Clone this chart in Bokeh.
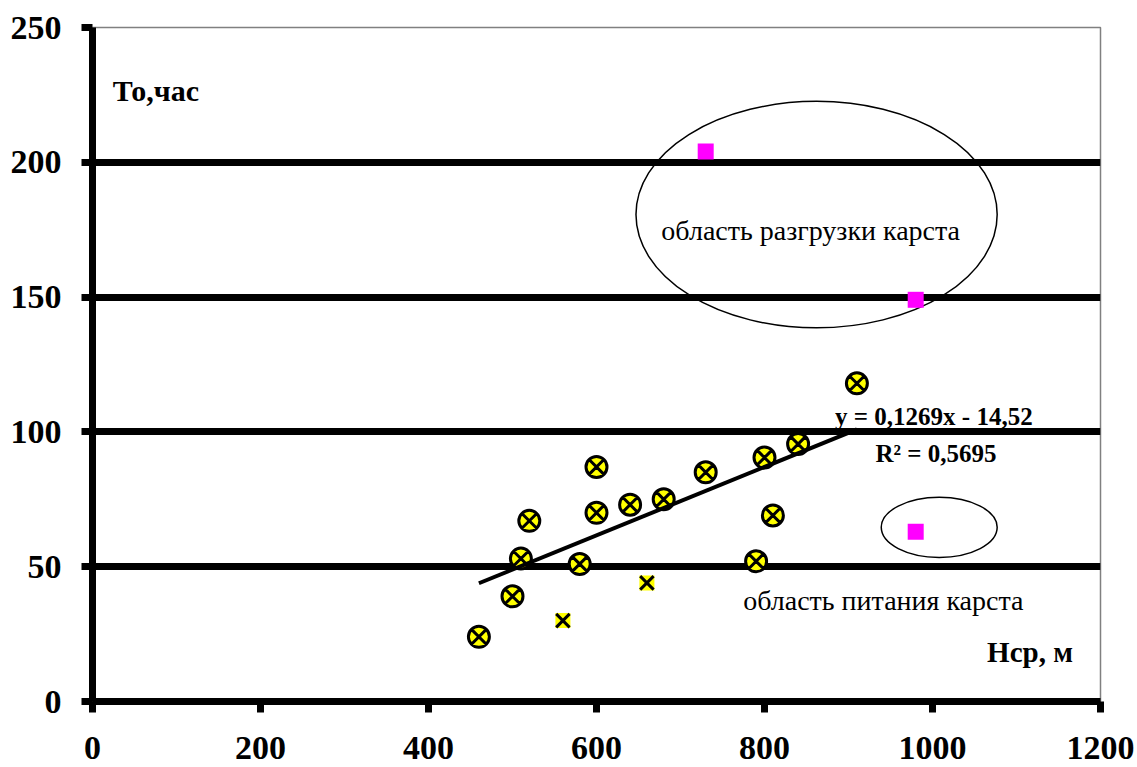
from bokeh.plotting import figure
from bokeh.models import Range1d, FixedTicker, Label
from bokeh.embed import file_html
from bokeh.resources import INLINE

# ---- data ----
H_main = [460, 500, 510, 520, 580, 600, 600, 640, 680, 730, 790, 800, 810, 840, 910]
T_main = [24, 39, 53, 67, 51, 70, 87, 73, 75, 85, 52, 90.5, 69, 95.5, 118]
H_cross = [560, 660]
T_cross = [30, 44]
H_mag = [730, 980, 980]
T_mag = [204, 149, 63]
slope = 0.1269
intercept = -14.52
x_ticks = [0, 200, 400, 600, 800, 1000, 1200]
y_ticks = [0, 50, 100, 150, 200, 250]

# annotation ellipses (data units)
ell_x = [862, 1008]
ell_y = [180.6, 64.6]
ell_w = [430, 138]
ell_h = [84, 22.3]

FONT = "Liberation Serif"

p = figure(width=1137, height=767, output_backend="svg", toolbar_location=None,
           x_range=Range1d(0, 1200), y_range=Range1d(0, 250),
           min_border_left=92, min_border_right=37, min_border_top=27,
           min_border_bottom=66)
p.background_fill_color = "white"
p.border_fill_color = "white"
p.outline_line_color = "#808080"
p.outline_line_width = 1.5

for ax, ticks in ((p.xaxis, x_ticks), (p.yaxis, y_ticks)):
    ax.ticker = FixedTicker(ticks=ticks)
    ax.axis_line_width = 7
    ax.axis_line_color = "black"
    ax.major_tick_line_width = 7
    ax.major_tick_line_color = "black"
    ax.major_tick_out = 11
    ax.major_tick_in = 0
    ax.minor_tick_line_color = None
    ax.major_label_text_font = FONT
    ax.major_label_text_font_style = "bold"
    ax.major_label_text_font_size = "34px"
    ax.major_label_text_color = "black"
p.xaxis.major_label_standoff = 24
p.yaxis.major_label_standoff = 20

p.xgrid.visible = False
p.ygrid.ticker = FixedTicker(ticks=y_ticks)
p.ygrid.grid_line_color = "black"
p.ygrid.grid_line_width = 7

# ellipses
p.ellipse(x=ell_x, y=ell_y, width=ell_w, height=ell_h,
          fill_color=None, line_color="black", line_width=1.5)

# points
p.scatter(H_main, T_main, marker="circle_x", size=21, fill_color="yellow",
          line_color="black", line_width=3)
p.scatter(H_cross, T_cross, marker="square", size=15, fill_color="yellow", line_color=None)
p.scatter(H_cross, T_cross, marker="x", size=19, line_color="black", line_width=3)
p.scatter(H_mag, T_mag, marker="square", size=16, fill_color="#FF00FF", line_color=None)

# trend line
tx = [min(H_main), max(H_main)]
ty = [slope * v + intercept for v in tx]
p.line(tx, ty, line_width=4, line_color="black")

def lab(x, y, text, size, bold=False, align="left"):
    p.add_layout(Label(x=x, y=y, text=text, text_font=FONT, text_font_size=size,
                       text_font_style="bold" if bold else "normal",
                       text_align=align, text_baseline="alphabetic", text_color="black"))

lab(24, 226.5, "То,час", "30px", bold=True)
lab(1065, 18.2, "Нср, м", "29px", bold=True)
lab(884, 105.7, "y = 0,1269x - 14,52", "25px", bold=True)
lab(932, 92, "R² = 0,5695", "25px", bold=True)
lab(855, 174.7, "область разгрузки карста", "28px", align="center")
lab(941.5, 37.5, "область питания карста", "28px", align="center")

open("out.html", "w").write(file_html(p, INLINE))
